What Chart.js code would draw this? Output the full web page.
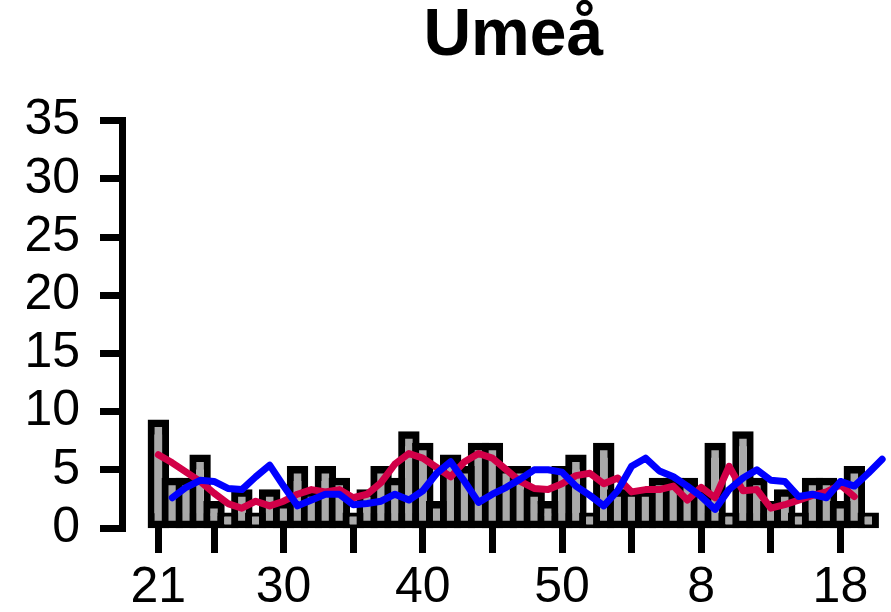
<!DOCTYPE html>
<html>
<head>
<meta charset="utf-8">
<script src="https://cdn.jsdelivr.net/npm/chart.js@4/dist/chart.umd.min.js"></script>
<style>
  html, body { margin: 0; padding: 0; background: #ffffff; }
  #wrap { width: 891px; height: 612px; }
</style>
</head>
<body>
<div id="wrap"><canvas id="chart" width="891" height="612"></canvas></div>
<script>
// Week numbers along the x axis: week 21 to 52, then week 1 to 21 of the following year
const weeks = [21,22,23,24,25,26,27,28,29,30,31,32,33,34,35,36,37,38,39,40,41,42,43,44,45,46,47,48,49,50,51,52,
               1,2,3,4,5,6,7,8,9,10,11,12,13,14,15,16,17,18,19,20,21];

// Weekly counts (grey bars), one per week
const weeklyCounts = [9,4,4,6,2,1,3,1,3,2, 5,3,5,4,1,3,5,4,8,7, 2,6,5,7,7,5,5,3,2,5,
                      6,1,7,3,3,3,4,4,4,3, 7,1,8,4,2,3,1,4,4,2, 5,1,null];

// Red curve
const redSeries = [6.3,5.6,4.8,4.0,3.0,2.1,1.7,2.3,1.9,2.3, 2.9,3.3,3.1,3.3,2.6,2.9,3.9,5.5,6.4,6.0,
                   5.2,4.4,5.7,6.4,6.0,5.0,4.0,3.4,3.3,3.8, 4.5,4.7,3.8,4.3,3.1,3.3,3.3,3.6,2.4,3.5,
                   2.6,5.3,3.2,3.3,1.7,2.0,2.4,2.8,3.1,3.7, 2.7,null,null];

// Blue curve
const blueSeries = [null,2.6,3.5,4.1,4.0,3.4,3.3,4.4,5.4,3.6, 1.9,2.4,2.9,2.9,2.0,2.1,2.3,2.9,2.4,3.2,
                    4.7,5.7,4.0,2.2,2.9,3.5,4.2,5.0,5.0,4.8, 3.6,2.8,1.9,3.2,5.3,6.0,4.9,4.4,3.6,2.7,
                    1.6,3.3,4.3,5.0,4.1,4.0,2.7,2.9,2.6,4.0, 3.6,4.7,5.9];

// Tick marks on the week axis, and the weeks that carry a label
const tickWeeks = [21,25,30,35,40,45,50,3,8,13,18];
const labelWeeks = [21,30,40,50,8,18];

const yTicks = [0,5,10,15,20,25,30,35];

const FONT = "'Liberation Sans', Arial, Helvetica, sans-serif";

const toPoints = arr => weeks.map((w, i) => ({ x: i, y: arr[i] })).filter(p => p.y !== null && p.y !== undefined);
const tickIndex = tickWeeks.map(w => weeks.indexOf(w));
const labelIndex = new Set(labelWeeks.map(w => weeks.indexOf(w)));

// Centre the title over the bar area
const titleCentre = {
  id: 'titleCentre',
  afterLayout(chart) {
    const t = chart.titleBlock;
    const xs = chart.scales.x;
    if (!t || !xs) return;
    const nBars = weeklyCounts.filter(v => v !== null).length;
    const cx = (xs.getPixelForValue(-0.5) + xs.getPixelForValue(nBars - 0.5)) / 2;
    const w = t.right - t.left;
    t.left = cx - w / 2;
    t.right = cx + w / 2;
  }
};

new Chart(document.getElementById('chart'), {
  type: 'bar',
  data: {
    datasets: [
      {
        type: 'line',
        label: 'blue',
        data: toPoints(blueSeries),
        borderColor: 'rgb(0,0,255)',
        borderWidth: 7,
        pointRadius: 0,
        tension: 0,
        borderJoinStyle: 'round',
        borderCapStyle: 'round',
        clip: false,
        order: 0
      },
      {
        type: 'line',
        label: 'red',
        data: toPoints(redSeries),
        borderColor: 'rgb(210,0,72)',
        borderWidth: 7,
        pointRadius: 0,
        tension: 0,
        borderJoinStyle: 'round',
        borderCapStyle: 'round',
        clip: false,
        order: 1
      },
      {
        type: 'bar',
        label: 'count',
        data: toPoints(weeklyCounts),
        backgroundColor: '#AAAAAA',
        borderColor: '#000000',
        borderWidth: 7.5,
        inflateAmount: 3.75,
        borderSkipped: false,
        barPercentage: 1,
        categoryPercentage: 1,
        clip: false,
        order: 2
      }
    ]
  },
  options: {
    responsive: false,
    animation: false,
    devicePixelRatio: 1,
    layout: { padding: { left: 0, right: 3, top: 0, bottom: 0 } },
    plugins: {
      legend: { display: false },
      tooltip: { enabled: false },
      title: {
        display: true,
        text: 'Umeå',
        color: '#000000',
        font: { family: FONT, size: 66, weight: 'bold', lineHeight: 1.1 },
        padding: { top: 0, bottom: 48 }
      }
    },
    scales: {
      x: {
        type: 'linear',
        min: -2.61,
        max: 52.42,
        offset: false,
        grid: {
          offset: false,
          drawOnChartArea: false,
          drawTicks: true,
          tickLength: 25,
          lineWidth: 7,
          color: '#000000'
        },
        border: { display: false },
        afterBuildTicks(scale) {
          scale.ticks = tickIndex.map(v => ({ value: v }));
        },
        afterFit(scale) { scale.height = 84; },
        ticks: {
          autoSkip: false,
          maxRotation: 0,
          minRotation: 0,
          padding: 5,
          color: '#000000',
          font: { family: FONT, size: 50 },
          callback: (value) => labelIndex.has(value) ? String(weeks[value]) : ''
        }
      },
      y: {
        type: 'linear',
        min: 0,
        max: 35,
        grid: {
          drawOnChartArea: false,
          drawTicks: true,
          tickLength: 22,
          lineWidth: 7,
          color: '#000000'
        },
        border: { display: true, color: '#000000', width: 7 },
        afterBuildTicks(scale) {
          scale.ticks = yTicks.map(v => ({ value: v }));
        },
        afterFit(scale) { scale.width = 122; },
        ticks: {
          autoSkip: false,
          padding: 20,
          color: '#000000',
          font: { family: FONT, size: 50 }
        }
      }
    }
  },
  plugins: [titleCentre]
});
</script>
</body>
</html>
